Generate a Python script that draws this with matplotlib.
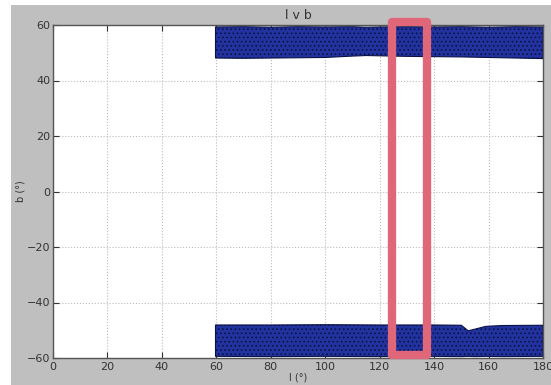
import matplotlib
matplotlib.use("Agg")
import matplotlib.pyplot as plt
from matplotlib.patches import Rectangle

# band outlines (l, lower b, upper b)
north_l  = [59.7, 70, 80, 90, 100, 110, 115, 120, 130, 140, 150, 160, 170, 180]
north_lo = [48.1, 48.0, 48.1, 48.2, 48.3, 48.8, 49.0, 48.9, 48.7, 48.6, 48.5, 48.3, 48.1, 47.9]
north_hi = [59.3, 59.4, 59.2, 59.4, 59.3, 59.4, 59.2, 59.3, 59.4, 59.3, 59.4, 59.2, 59.4, 59.3]

south_l  = [59.7, 80, 100, 120, 140, 150, 152.5, 155, 159, 165, 180]
south_hi = [-48.1, -48.1, -48.0, -48.1, -48.1, -48.2, -50.2, -49.6, -48.6, -48.3, -48.2]
south_lo = [-59.4, -59.5, -59.4, -59.5, -59.4, -59.5, -59.4, -59.5, -59.4, -59.5, -59.4]

box_l = [124.4, 137.3]
box_b = [-58.9, 61.1]

xticks = [0, 20, 40, 60, 80, 100, 120, 140, 160, 180]
yticks = [-60, -40, -20, 0, 20, 40, 60]

plt.rcParams['hatch.linewidth'] = 0.7
fig = plt.figure(figsize=(5.51, 3.85), dpi=100, facecolor='white')
fig.patches.append(Rectangle((11/551, 0), 1, 380/385, transform=fig.transFigure,
                             facecolor='#bfbfbf', edgecolor='none', zorder=-10))
ax = fig.add_axes([53/551, 27/385, 490/551, 333/385])
ax.set_facecolor('white')

for l, lo, hi in [(north_l, north_lo, north_hi), (south_l, south_lo, south_hi)]:
    ax.fill_between(l, lo, hi, facecolor='#2233a0', edgecolor='#0a1245',
                    hatch='....', linewidth=0.8, zorder=2)

ax.set_xlim(0, 180)
ax.set_ylim(-60, 60)
ax.set_xticks(xticks)
ax.set_yticks(yticks)
ax.grid(True, linestyle=':', color='#bbbbbb', linewidth=0.8, zorder=1)
ax.set_axisbelow(True)
ax.tick_params(direction='in', top=True, right=True, labelsize=8, colors='#333333',
               length=4, pad=2)
ax.tick_params(axis='x', pad=3)
for s in ax.spines.values():
    s.set_color('#555555')
    s.set_linewidth(1.0)

ax.set_title('l v b', fontsize=9, color='#333333', pad=4)
ax.set_xlabel('l (°)', fontsize=7, color='#333333', labelpad=0)
ax.set_ylabel('b (°)', fontsize=7, color='#333333', labelpad=1)

# highlight box
box = Rectangle((box_l[0], box_b[0]), box_l[1] - box_l[0], box_b[1] - box_b[0],
                facecolor='none', edgecolor='#e0667a', linewidth=6,
                joinstyle='round', clip_on=False, zorder=5)
ax.add_patch(box)

fig.savefig('out.png', dpi=100, facecolor=fig.get_facecolor())
